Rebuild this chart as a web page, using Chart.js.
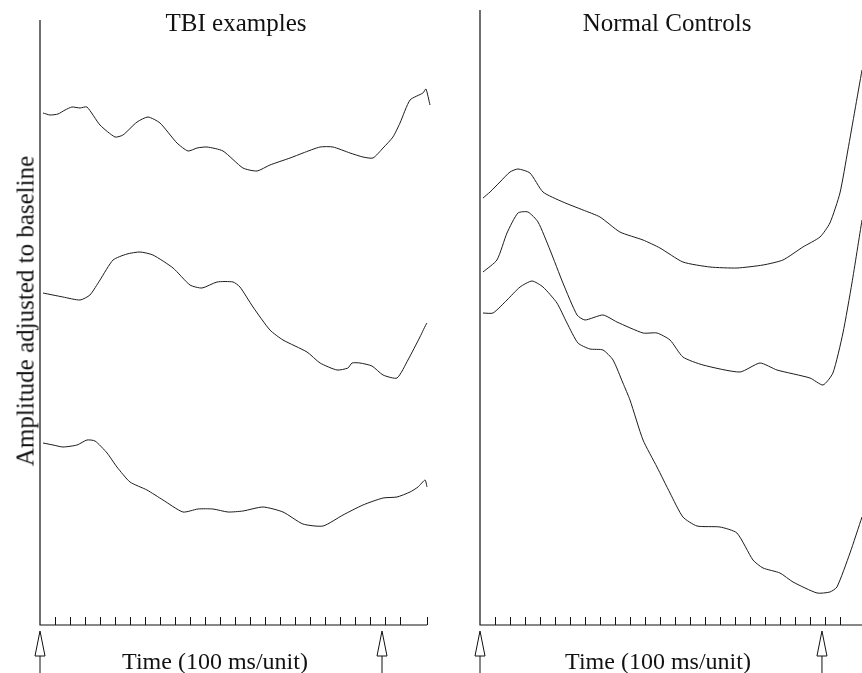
<!DOCTYPE html>
<html>
<head>
<meta charset="utf-8">
<script src="https://cdn.jsdelivr.net/npm/chart.js@4.4.1/dist/chart.umd.min.js"></script>
<style>
  body { margin: 0; background: #fff; }
  #wrap { position: relative; width: 862px; height: 673px; overflow: hidden; }
  canvas { position: absolute; top: 0; }
  .lbl {
    position: absolute; font-family: "Liberation Serif", "Times New Roman", serif;
    font-size: 25px; line-height: 25px; color: #111; white-space: nowrap;
    transform: translateX(-50%);
  }
  .lbl.time { font-size: 24px; line-height: 24px; }
  #ylabel { transform: translate(-50%, -50%) rotate(-90deg); }
</style>
</head>
<body>
<div id="wrap">
  <canvas id="tbiChart" width="450" height="673" style="left:0"></canvas>
  <canvas id="ncChart" width="412" height="673" style="left:450px"></canvas>
  <div class="lbl" style="left:236px; top:10px">TBI examples</div>
  <div class="lbl" style="left:667px; top:10px">Normal Controls</div>
  <div class="lbl time" style="left:215px; top:649px">Time (100 ms/unit)</div>
  <div class="lbl time" style="left:658px; top:649px">Time (100 ms/unit)</div>
  <div class="lbl" id="ylabel" style="left:25px; top:311px">Amplitude adjusted to baseline</div>
</div>
<script>
// time in 100 ms units, amplitude in arbitrary units (traces offset from each other)
const tbiTime1 = [0.2,0.67,1.2,1.67,2.13,2.67,3.13,4,5,5.53,6.47,7.2,8,9.13,9.87,10.47,11.13,12.2,13.53,14.47,15.33,16.67,17.53,18.67,19.53,20.67,21.53,22.2,22.87,23.53,24,24.67,25.53,25.73,26];
const tbiAmp1  = [102.4,102,102.2,103,103.6,103.4,103.6,100,97.6,98,100.6,101.6,100.4,96.4,94.8,95.4,95.6,94.8,91.4,90.8,92,93.4,94.4,95.6,95.6,94.4,93.6,93.4,95.4,97.6,100.4,105,106.4,107.2,104];

const tbiTime2 = [0.2,1.53,2.67,3.33,4,4.87,5.8,6.67,7.53,8.87,10,10.8,11.8,12.87,13.33,14.2,15.33,16.2,17.8,18.67,19.8,20.53,20.8,21.33,22.13,22.87,23.8,24.53,25.33,25.8,25.87];
const tbiAmp2  = [66.4,65.6,65,66,69,73,74.2,74.6,74,71.4,68,67.4,68.6,68.6,67.6,63.6,59,57,54.6,52.4,51,51.4,52.4,52.4,51.8,50,49.4,53,57.6,60.4,59.4];

const tbiTime3 = [0.2,0.87,1.53,2.47,3.13,3.67,4.47,5.13,6,7.13,8.2,9.53,10.53,11.53,12.53,13.53,14.87,16.2,17.53,18.87,20.2,21.53,22.87,23.8,24.67,25.2,25.67,25.8];
const tbiAmp3  = [36.4,36,35.6,36,37,36.8,34.4,31.6,28.6,27,25,22.6,23.2,23.2,22.6,22.8,23.6,22.6,20.2,19.8,22,24,25.4,25.6,26.6,27.6,29,27.6];

const ncTime1 = [0.2,0.67,1.33,2,2.53,3.33,4.2,5.53,6.87,8,9.33,10.87,12,13.53,15.33,17.13,18.87,20.2,21.53,22.67,23.33,24,24.53,25,25.47];
const ncAmp1  = [85.4,86.6,88.6,90.6,91.2,90.4,86.6,84.6,83,81.6,78.6,77,75.4,72.6,71.6,71.4,72,73,75.6,77.6,80.4,86.4,95,103,111];

const ncTime2 = [0.2,1.13,1.8,2.53,3.2,3.87,4.67,5.53,6.47,7,8.2,9.13,10.87,11.8,12.67,13.53,14.87,17.33,18.67,19.8,22,22.87,23.53,24.2,24.8,25.47];
const ncAmp2  = [70.6,73,78.4,82.4,82.6,80.6,75,68.4,62,61,62,60.6,58.4,58.4,57,53.6,52,50.6,52.4,51,49.4,48,50.4,58.4,68.4,81];

const ncTime3 = [0.2,0.87,1.8,2.67,3.47,4.2,5.13,5.8,6.53,7.33,8.2,8.87,9.53,10,10.87,11.8,12.67,13.53,14.47,16,17.13,18.2,18.87,20,20.87,22.47,23.33,23.8,24.67,25.47];
const ncAmp3  = [62.4,62.4,65,67.6,68.8,67.6,64.4,60.4,56.4,55.2,55,53,48.4,45,37,31.6,26.4,21.6,19.8,19.6,18.4,13,11.4,10.4,8.6,6.4,6.6,7.6,14.4,21.6];

// stimulus markers drawn as arrows under the time axis
const arrowTimes = [0, 22.8];

const toPoints = (t, a) => t.map((x, i) => ({ x: x, y: a[i] }));

// axes, upward ticks and hollow arrows
const framePlugin = {
  id: 'frame',
  afterDraw(chart) {
    const { ctx, chartArea: area, scales } = chart;
    const xs = scales.x;
    ctx.save();
    ctx.strokeStyle = '#111';
    ctx.lineWidth = 1.2;
    ctx.beginPath();
    ctx.moveTo(area.left, area.top);
    ctx.lineTo(area.left, area.bottom);
    ctx.lineTo(area.right, area.bottom);
    ctx.stroke();

    ctx.lineWidth = 1;
    ctx.beginPath();
    xs.ticks.forEach(t => {
      if (t.value <= 0) return;
      const px = Math.round(xs.getPixelForValue(t.value)) + 0.5;
      ctx.moveTo(px, area.bottom);
      ctx.lineTo(px, area.bottom - 8);
    });
    ctx.stroke();

    arrowTimes.forEach(v => {
      const px = xs.getPixelForValue(v);
      const tip = area.bottom + 6, base = area.bottom + 31;
      ctx.beginPath();
      ctx.moveTo(px, tip);
      ctx.lineTo(px + 5, base);
      ctx.lineTo(px - 5, base);
      ctx.closePath();
      ctx.moveTo(px, base);
      ctx.lineTo(px, base + 18);
      ctx.stroke();
    });
    ctx.restore();
  }
};

function makeChart(id, traces, xMax, yMax, padding) {
  return new Chart(document.getElementById(id).getContext('2d'), {
    type: 'line',
    data: {
      datasets: traces.map(p => ({
        data: p,
        borderColor: '#1c1c1c',
        borderWidth: 1,
        pointRadius: 0,
        tension: 0.2,
        fill: false,
        clip: false
      }))
    },
    options: {
      responsive: false,
      animation: false,
      layout: { padding: padding },
      plugins: { legend: { display: false }, tooltip: { enabled: false } },
      scales: {
        x: {
          type: 'linear', min: 0, max: xMax, display: false,
          ticks: { stepSize: 1, maxTicksLimit: 100, autoSkip: false }
        },
        y: { min: 0, max: yMax, display: false }
      }
    },
    plugins: [framePlugin]
  });
}

makeChart('tbiChart',
  [toPoints(tbiTime1, tbiAmp1), toPoints(tbiTime2, tbiAmp2), toPoints(tbiTime3, tbiAmp3)],
  25.8, 121, { left: 40, right: 23, top: 20, bottom: 48 });

makeChart('ncChart',
  [toPoints(ncTime1, ncAmp1), toPoints(ncTime2, ncAmp2), toPoints(ncTime3, ncAmp3)],
  25.47, 123, { left: 30, right: 0, top: 10, bottom: 48 });
</script>
</body>
</html>
